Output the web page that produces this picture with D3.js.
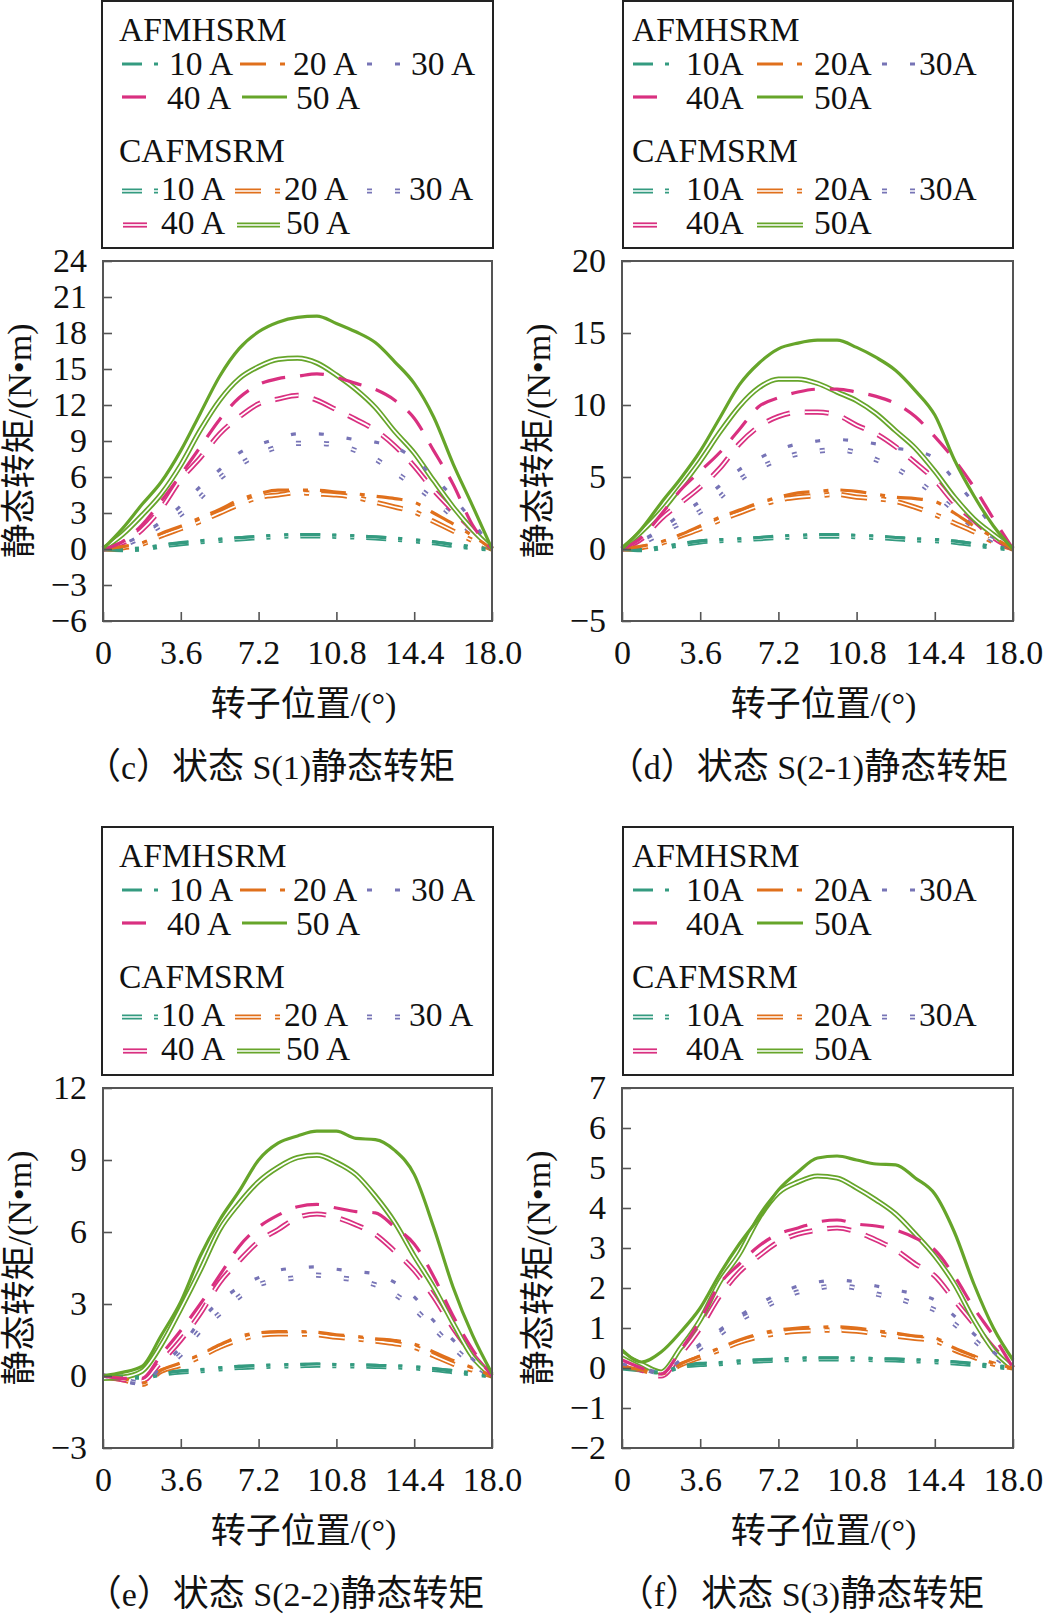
<!DOCTYPE html>
<html><head><meta charset="utf-8">
<script src="https://cdn.jsdelivr.net/npm/d3@7"></script>
<style>body{margin:0;background:#fff} svg{display:block}</style>
</head><body>
<svg id="chart" width="1043" height="1616"></svg>
<script>
// ---------------- data ----------------
const xDeg = [0,0.9,1.8,2.7,3.6,4.5,5.4,6.3,7.2,8.1,9.0,9.9,10.8,11.7,12.6,13.5,14.4,15.3,16.2,17.1,18.0];
const currents = ["10","20","30","40","50"];
const machines = ["AFMHSRM","CAFMSRM"];
const xTickValues = [0,3.6,7.2,10.8,14.4,18];
const xTickLabels = ["0","3.6","7.2","10.8","14.4","18.0"];
const panelIds = ["c","d","e","f"];
const captions = ["（c）状态 S(1)静态转矩","（d）状态 S(2-1)静态转矩","（e）状态 S(2-2)静态转矩","（f）状态 S(3)静态转矩"];
const yTicksC = [-6,-3,0,3,6,9,12,15,18,21,24];
const yTicksD = [-5,0,5,10,15,20];
const yTicksE = [-3,0,3,6,9,12];
const yTicksF = [-2,-1,0,1,2,3,4,5,6,7];
const xTitle = "转子位置/(°)";
const yTitle = "静态转矩/(N•m)";

// rows: 10A,20A,30A,40A,50A ; columns follow xDeg
const torqueC_AFM = [
 [0,-0.05,0.0,0.3,0.5,0.65,0.8,0.95,1.05,1.15,1.2,1.2,1.15,1.1,1.0,0.9,0.75,0.6,0.35,0.15,0],
 [0,0.2,0.5,1.3,1.9,2.6,3.3,4.1,4.6,4.9,4.9,4.9,4.75,4.6,4.4,4.2,3.9,3.0,2.1,1.1,0],
 [0,0.4,1.2,2.3,3.6,5.2,6.6,8.0,8.7,9.2,9.6,9.6,9.4,9.1,8.9,8.5,7.5,6.0,4.3,2.3,0],
 [0,0.6,2.0,4.0,6.2,8.5,10.8,12.6,13.7,14.2,14.4,14.6,14.3,13.8,13.3,12.4,10.9,8.2,5.4,2.0,0],
 [0,1.7,3.7,5.6,8.2,11.3,14.4,16.7,18.1,18.9,19.3,19.4,18.8,18.1,17.2,15.6,13.8,11.0,7.1,3.6,0]
];
const torqueC_CAF = [
 [0,-0.05,0.0,0.25,0.45,0.6,0.72,0.85,0.95,1.05,1.1,1.1,1.05,1.0,0.92,0.82,0.68,0.52,0.3,0.12,0],
 [0,0.1,0.4,1.1,1.7,2.3,3.0,3.7,4.3,4.5,4.7,4.6,4.5,4.3,3.9,3.5,3.1,2.3,1.5,0.7,0],
 [0,0.3,1.0,2.0,2.9,4.3,5.9,7.0,7.9,8.5,8.8,8.8,8.7,8.2,7.5,6.4,5.3,4.1,2.7,1.3,0],
 [0,0.5,1.6,3.4,5.8,7.6,9.6,11.0,12.1,12.5,12.8,12.4,11.6,10.8,9.9,8.6,6.9,4.9,3.2,1.6,0],
 [0,1.2,2.8,4.6,7.0,9.9,12.4,14.2,15.2,15.8,15.9,15.5,14.5,13.3,11.8,9.8,8.0,5.7,3.5,1.6,0]
];
const torqueD_AFM = [
 [0,-0.05,0.1,0.35,0.55,0.65,0.7,0.8,0.9,0.95,1.0,1.0,0.95,0.9,0.8,0.7,0.65,0.55,0.35,0.15,0],
 [0,0.2,0.5,1.0,1.6,2.2,2.7,3.2,3.6,3.9,4.0,4.1,4.0,3.8,3.6,3.5,3.3,2.5,1.6,0.8,0],
 [0,0.6,1.4,2.4,3.3,4.4,5.5,6.3,6.9,7.3,7.5,7.6,7.5,7.3,7.0,6.8,6.3,4.8,3.2,1.5,0],
 [0,0.8,2.4,4.1,5.4,6.7,8.3,9.9,10.5,10.9,11.1,11.1,10.9,10.6,10.1,9.2,7.8,6.2,4.3,2.1,0],
 [0,1.4,3.2,4.9,6.8,9.1,11.4,12.9,13.9,14.3,14.5,14.5,14.0,13.3,12.4,11.0,9.3,6.2,3.7,1.6,0]
];
const torqueD_CAF = [
 [0,-0.05,0.08,0.3,0.5,0.58,0.63,0.72,0.8,0.85,0.9,0.9,0.86,0.8,0.72,0.63,0.58,0.48,0.3,0.12,0],
 [0,0.1,0.4,0.9,1.4,2.0,2.5,3.0,3.4,3.6,3.7,3.8,3.6,3.5,3.3,2.9,2.4,1.8,1.2,0.5,0],
 [0,0.4,1.1,1.8,2.6,3.6,4.8,5.6,6.2,6.6,6.8,6.9,6.7,6.2,5.6,4.8,3.8,2.7,1.5,0.6,0],
 [0,0.7,2.1,3.2,4.3,5.6,7.3,8.5,9.2,9.5,9.5,9.3,8.6,8.0,7.1,6.0,4.8,3.2,2.0,0.8,0],
 [0,1.2,2.6,4.3,6.1,8.1,9.9,11.2,11.8,11.8,11.5,10.9,10.3,9.4,8.2,7.0,5.4,3.6,2.1,1.0,0]
];
const torqueE_AFM = [
 [0,-0.05,-0.05,0.1,0.2,0.25,0.33,0.4,0.43,0.46,0.48,0.5,0.48,0.46,0.44,0.42,0.38,0.3,0.2,0.1,0],
 [0,-0.1,-0.3,0.25,0.55,0.9,1.3,1.65,1.8,1.85,1.85,1.82,1.72,1.65,1.55,1.48,1.33,1.0,0.65,0.35,0],
 [0,-0.2,-0.35,0.4,1.2,2.3,3.1,3.7,4.1,4.4,4.5,4.55,4.45,4.35,4.25,3.9,3.3,2.3,1.5,0.7,0],
 [0,-0.1,-0.1,0.9,1.9,3.0,4.2,5.4,6.2,6.7,7.05,7.15,7.0,6.85,6.8,6.2,5.5,4.15,2.5,1.1,0],
 [0,0.15,0.4,1.7,3.1,5.0,6.5,7.7,9.0,9.7,10.0,10.2,10.2,9.9,9.85,9.4,8.4,6.2,3.7,1.7,0.1]
];
const torqueE_CAF = [
 [0,-0.05,-0.05,0.08,0.17,0.22,0.3,0.36,0.39,0.42,0.43,0.45,0.43,0.42,0.4,0.38,0.34,0.27,0.18,0.09,0],
 [-0.05,-0.15,-0.35,0.2,0.45,0.8,1.2,1.5,1.7,1.75,1.75,1.72,1.62,1.55,1.45,1.35,1.2,0.85,0.5,0.25,0],
 [0,-0.15,-0.3,0.3,0.9,1.9,2.6,3.3,3.8,4.0,4.1,4.2,4.1,4.0,3.8,3.4,2.8,2.0,1.2,0.5,0],
 [0,-0.15,-0.2,0.6,1.5,2.6,3.9,4.8,5.6,6.1,6.6,6.75,6.6,6.3,5.9,5.2,4.4,3.3,2.0,0.9,0],
 [-0.1,-0.05,0.2,1.3,2.8,4.4,6.1,7.2,8.1,8.7,9.1,9.2,8.9,8.4,7.5,6.4,5.0,3.7,2.2,0.8,0]
];
const torqueF_AFM = [
 [0,-0.05,-0.1,0.05,0.1,0.12,0.17,0.2,0.22,0.24,0.25,0.25,0.25,0.23,0.22,0.2,0.18,0.15,0.1,0.05,0],
 [0.05,-0.05,-0.15,0.1,0.3,0.5,0.7,0.85,0.95,1.0,1.02,1.03,1.0,0.93,0.87,0.8,0.75,0.5,0.3,0.12,0],
 [0.1,0.0,-0.1,0.2,0.6,0.95,1.3,1.6,1.85,2.05,2.15,2.2,2.15,2.05,1.95,1.85,1.7,1.3,0.85,0.4,0],
 [0.2,0.0,-0.15,0.45,1.2,2.1,2.6,3.05,3.35,3.5,3.65,3.7,3.6,3.55,3.45,3.25,2.95,2.3,1.5,0.8,0],
 [0.45,0.15,0.4,0.9,1.5,2.35,3.1,3.75,4.45,4.9,5.25,5.3,5.2,5.1,5.08,4.75,4.35,3.4,2.1,1.0,0.2]
];
const torqueF_CAF = [
 [0,-0.05,-0.1,0.04,0.09,0.11,0.15,0.18,0.2,0.22,0.23,0.23,0.22,0.21,0.2,0.18,0.16,0.13,0.09,0.04,0],
 [0.05,-0.05,-0.15,0.08,0.27,0.45,0.64,0.78,0.87,0.92,0.94,0.95,0.92,0.86,0.8,0.74,0.68,0.45,0.27,0.1,0],
 [0.1,0.0,-0.12,0.15,0.5,0.85,1.2,1.45,1.7,1.9,2.0,2.05,2.0,1.85,1.75,1.6,1.45,1.1,0.7,0.3,0],
 [0.15,-0.05,-0.2,0.35,1.0,1.8,2.4,2.8,3.15,3.35,3.45,3.5,3.4,3.2,2.95,2.6,2.3,1.7,1.1,0.5,0],
 [0.35,0.1,-0.1,0.5,1.2,2.15,2.85,3.75,4.38,4.65,4.8,4.75,4.5,4.2,3.85,3.35,2.8,2.1,1.2,0.45,0]
];

// ---------------- styles / layout ----------------
const colors = ["#349b80","#e0701c","#7774b6","#d93080","#66a52a"];
const dashes = ["20,12,4,14,4,12","26,14,5,12","5,23","24,15",null];
const SERIF = "'Liberation Serif','Noto Sans CJK SC',serif";

const panels = {
 c:{left:103,right:492,top:261,bottom:621,legX:102,legY:1,legW:391,legH:247,spaced:true,capX:270,
    yDomain:[-6,24],yTicks:yTicksC,data:[torqueC_AFM,torqueC_CAF]},
 d:{left:622,right:1013,top:261,bottom:621,legX:623,legY:1,legW:390,legH:247,spaced:false,capX:808,
    yDomain:[-5,20],yTicks:yTicksD,data:[torqueD_AFM,torqueD_CAF]},
 e:{left:103,right:492,top:1088,bottom:1448,legX:102,legY:827,legW:391,legH:248,spaced:true,capX:285,
    yDomain:[-3,12],yTicks:yTicksE,data:[torqueE_AFM,torqueE_CAF]},
 f:{left:622,right:1013,top:1088,bottom:1448,legX:623,legY:827,legW:390,legH:248,spaced:false,capX:801,
    yDomain:[-2,7],yTicks:yTicksF,data:[torqueF_AFM,torqueF_CAF]}
};

// legend item placement (relative to legend box): [sampleStart, sampleEnd, textX]
const legSpaced = {
 AFM:[[20,58,67],[138,185,191],[265,298,309],[20,58,65],[140,185,194]],
 CAF:[[20,56,59],[133,180,182],[265,298,307],[21,56,59],[135,178,184]]
};
const legTight = {
 AFM:[[10,52,63],[134,180,191],[259,292,296],[10,40,63],[134,180,191]],
 CAF:[[10,52,63],[134,180,191],[259,292,296],[10,40,63],[134,180,191]]
};
const rowLineY = {AFM:[63,63,63,96,96], CAF:[190,190,190,224,224]};
const rowTextY = {AFM:[74,74,74,108,108], CAF:[199,199,199,233,233]};
const LEGFS = 33.5;

const svg = d3.select("#chart");
svg.append("rect").attr("width",1043).attr("height",1616).attr("fill","#fff");

function strokePath(g, d, ci, isDouble){
  const p = g.append("path").attr("d",d).attr("fill","none")
    .attr("stroke",colors[ci]).attr("stroke-width",isDouble?5.2:3.2)
    .attr("stroke-linejoin","round");
  if(dashes[ci]) p.attr("stroke-dasharray",dashes[ci]);
  if(isDouble){
    const w = g.append("path").attr("d",d).attr("fill","none")
      .attr("stroke","#fff").attr("stroke-width",1.7).attr("stroke-linejoin","round");
    if(dashes[ci]) w.attr("stroke-dasharray",dashes[ci]);
  }
}

// write text with CJK runs at one size and Latin runs at another
function mixedText(sel, str, cjkSize, latSize){
  const runs = str.match(/[\u3000-\u9fff\uff00-\uffef]+|[^\u3000-\u9fff\uff00-\uffef]+/g);
  runs.forEach(r=>{
    const isCJK = /[\u3000-\u9fff\uff00-\uffef]/.test(r);
    sel.append("tspan").attr("font-size", isCJK?cjkSize:latSize).text(r);
  });
}

panelIds.forEach((pid,pi)=>{
  const P = panels[pid];
  const g = svg.append("g");
  const x = d3.scaleLinear().domain([0,18]).range([P.left,P.right]);
  const y = d3.scaleLinear().domain(P.yDomain).range([P.bottom,P.top]);

  // legend
  const lg = g.append("g").attr("transform",`translate(${P.legX},${P.legY})`);
  lg.append("rect").attr("width",P.legW).attr("height",P.legH).attr("fill","#fff")
    .attr("stroke","#222").attr("stroke-width",2);
  const hx = P.spaced?17:9;
  lg.append("text").attr("x",hx).attr("y",40).text(machines[0])
    .attr("font-family",SERIF).attr("font-size",LEGFS).attr("fill","#111");
  lg.append("text").attr("x",hx).attr("y",161).text(machines[1])
    .attr("font-family",SERIF).attr("font-size",LEGFS).attr("fill","#111");
  const place = P.spaced?legSpaced:legTight;
  ["AFM","CAF"].forEach((mk,mi)=>{
    currents.forEach((cur,ci)=>{
      const [s,e,tx] = place[mk][ci];
      const ly = rowLineY[mk][ci];
      strokePath(lg, d3.line()([[s,ly],[e,ly]]), ci, mi===1);
      lg.append("text").attr("x",tx).attr("y",rowTextY[mk][ci])
        .text(P.spaced?cur+" A":cur+"A")
        .attr("font-family",SERIF).attr("font-size",LEGFS).attr("fill","#111");
    });
  });

  // series
  const line = d3.line().x((d,i)=>x(xDeg[i])).y(d=>y(d)).curve(d3.curveMonotoneX);
  const sg = g.append("g");
  [1,0].forEach(mi=>{
    P.data[mi].forEach((vals,ci)=>{ strokePath(sg, line(vals), ci, mi===1); });
  });

  // frame
  g.append("rect").attr("x",P.left).attr("y",P.top).attr("width",P.right-P.left)
    .attr("height",P.bottom-P.top).attr("fill","none").attr("stroke","#555").attr("stroke-width",2);

  // axes
  const ya = g.append("g").attr("transform",`translate(${P.left},0)`)
    .call(d3.axisLeft(y).tickValues(P.yTicks).tickSizeInner(-9).tickSizeOuter(0).tickPadding(16)
      .tickFormat(v=> v<0 ? "\u2212"+Math.abs(v) : String(v)));
  ya.select(".domain").remove();
  ya.selectAll("line").attr("stroke","#555").attr("stroke-width",1.6);
  ya.selectAll("text").attr("font-family",SERIF).attr("font-size",34).attr("fill","#111");

  const xa = g.append("g").attr("transform",`translate(0,${P.bottom})`)
    .call(d3.axisBottom(x).tickValues(xTickValues).tickSizeInner(-9).tickSizeOuter(0).tickPadding(19)
      .tickFormat((v,i)=>xTickLabels[i]));
  xa.select(".domain").remove();
  xa.selectAll("line").attr("stroke","#555").attr("stroke-width",1.6);
  xa.selectAll("text").attr("font-family",SERIF).attr("font-size",34).attr("fill","#111");

  // titles
  const xt = g.append("text").attr("x",(P.left+P.right)/2+6).attr("y",P.bottom+83)
    .attr("text-anchor","middle").attr("dominant-baseline","central")
    .attr("font-family",SERIF).attr("fill","#111");
  mixedText(xt, xTitle, 35, 34);
  const ytx = P.left-84, yty = (P.top+P.bottom)/2;
  const yt = g.append("text").attr("transform",`translate(${ytx},${yty}) rotate(-90)`)
    .attr("text-anchor","middle").attr("dominant-baseline","central")
    .attr("font-family",SERIF).attr("fill","#111");
  mixedText(yt, yTitle, 35, 34);
  const cp = g.append("text").attr("x",P.capX).attr("y",P.bottom+146)
    .attr("text-anchor","middle").attr("dominant-baseline","central")
    .attr("font-family",SERIF).attr("fill","#111");
  mixedText(cp, captions[pi], 36, 34);
});
</script>
</body></html>
